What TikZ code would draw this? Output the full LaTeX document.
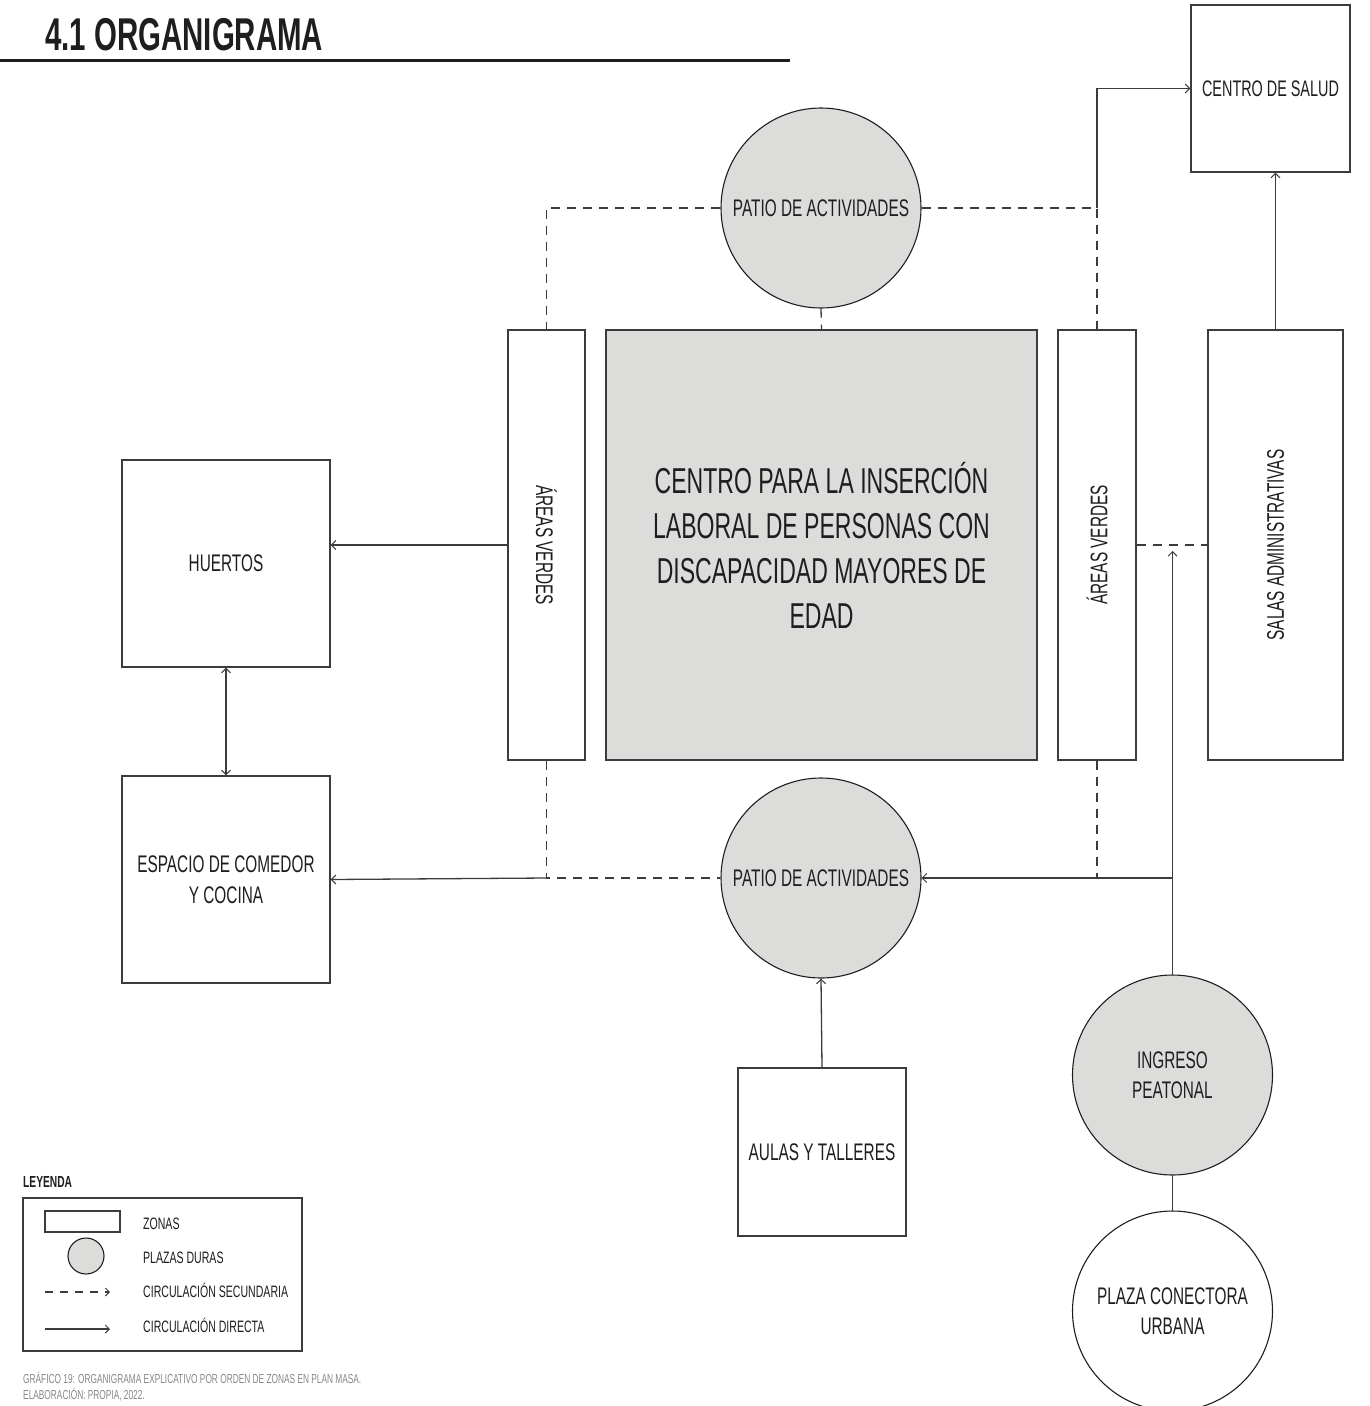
\documentclass[tikz,border=0pt]{standalone}
\usepackage{fontspec}
\usepackage{graphicx}
\setmainfont[FakeStretch=0.64]{Liberation Sans}
\usetikzlibrary{positioning,arrows.meta}

\definecolor{plazagray}{RGB}{220,221,219}
\definecolor{linegray}{RGB}{60,60,60}
\definecolor{textdark}{RGB}{30,30,30}
\definecolor{captiongray}{RGB}{135,135,135}

\tikzset{
  zona/.style={draw=linegray, line width=1.3pt, rectangle, fill=white, inner sep=0pt, text=textdark, align=center, font=\fontsize{24}{30.5}\selectfont},
  plaza/.style={draw=textdark, line width=1.1pt, circle, fill=plazagray, minimum size=200pt, inner sep=0pt, text=textdark, align=center, font=\fontsize{24}{30.5}\selectfont},
  plazaurb/.style={plaza, fill=white},
  direct/.style={draw=linegray, line width=1.3pt, -{Straight Barb[length=4.5pt,width=9pt,line width=1pt]}},
  linea/.style={draw=linegray, line width=1.3pt},
  secundaria/.style={linea, dash pattern=on 9pt off 7pt},
  leyenda/.style={anchor=base west, inner sep=0pt, text=textdark, font=\fontsize{16.5}{19}\selectfont},
}

\begin{document}
\begin{tikzpicture}[x=1pt, y=-1pt]
  \useasboundingbox (0,0) rectangle (1370,1406);

  % Title
  \node [anchor=base west, inner sep=0pt, text=textdark, font=\fontsize{46}{50}\selectfont\bfseries] (titulo) at (45,50) {4.1 ORGANIGRAMA};
  \draw [line width=3pt, textdark] (0,60) -- (790,60);

  % Nodes
  \node [zona, minimum width=159pt, minimum height=167pt, font=\fontsize{22.5}{28}\selectfont] (salud) at (1270.5,88.5) {CENTRO DE SALUD};
  \node [plaza] (patioN) at (821,208) {PATIO DE ACTIVIDADES};
  \node [zona, minimum width=77pt, minimum height=430pt] (avL) at (546.5,545) {\rotatebox{-90}{ÁREAS VERDES}};
  \node [zona, fill=plazagray, minimum width=431pt, minimum height=430pt, font=\fontsize{36}{45}\selectfont] (centro) at (821.5,545) {CENTRO PARA LA INSERCIÓN\\LABORAL DE PERSONAS CON\\DISCAPACIDAD MAYORES DE\\EDAD};
  \node [zona, minimum width=78pt, minimum height=430pt] (avR) at (1097,545) {\rotatebox{90}{ÁREAS VERDES}};
  \node [zona, minimum width=135pt, minimum height=430pt] (salas) at (1275.5,545) {\rotatebox{90}{SALAS ADMINISTRATIVAS}};
  \node [zona, minimum width=208pt, minimum height=207pt] (huertos) at (226,563.5) {HUERTOS};
  \node [zona, minimum width=208pt, minimum height=207pt] (comedor) at (226,879.5) {ESPACIO DE COMEDOR\\Y COCINA};
  \node [plaza] (patioS) at (821,878) {PATIO DE ACTIVIDADES};
  \node [zona, minimum width=168pt, minimum height=168pt] (aulas) at (822,1152) {AULAS Y TALLERES};
  \node [plaza] (ingreso) at (1172.5,1075) {INGRESO\\PEATONAL};
  \node [plazaurb] (plazaurb) at (1172.5,1311) {PLAZA CONECTORA\\URBANA};

  \coordinate (kneeNE) at (avR.north |- patioN.east);
  \coordinate (kneeSW) at (avL.south |- patioS.west);
  \coordinate (jointE) at (ingreso.north |- patioS.east);
  \coordinate (tipE) at (1172.5,551);

  % Arrows
  \draw [secundaria] (patioN.west) -| (avL.north);
  \draw [secundaria] (patioN.east) -| (avR.north);
  \draw [secundaria] (patioN.south) -- (centro.north);
  \draw [direct] (kneeNE) |- (salud.west);
  \draw [direct] (salas.north) -- (salas.north |- salud.south);
  \draw [secundaria] (avR.east) -- (salas.west);
  \draw [direct] (avL.west) -- (avL.west -| huertos.east);
  \draw [direct, {Straight Barb[length=4.5pt,width=9pt,line width=1pt]}-{Straight Barb[length=4.5pt,width=9pt,line width=1pt]}] (huertos.south) -- (comedor.north);
  \draw [secundaria] (avL.south) -- (kneeSW) -- (patioS.west);
  \draw [secundaria] (avR.south) -- (avR.south |- patioS.east);
  \draw [direct] (kneeSW) -- (comedor.east);
  \draw [linea] (ingreso.north) -- (jointE);
  \draw [direct] (jointE) -- (tipE);
  \draw [direct] (jointE) -- (patioS.east);
  \draw [direct] (aulas.north) -- (patioS.south);
  \draw [linea] (ingreso.south) -- (plazaurb.north);

  % Legend
  \node [anchor=base west, inner sep=0pt, text=textdark, font=\fontsize{16}{18}\selectfont\bfseries] (leytitulo) at (23,1187) {LEYENDA};
  \node [draw=linegray, line width=1.3pt, minimum width=279pt, minimum height=153pt, inner sep=0pt] (leybox) at (162.5,1274.5) {};
  \node [zona, minimum width=75pt, minimum height=21pt] (leyzona) at (82.5,1221.5) {};
  \node [plaza, minimum size=36pt] (leyplaza) at (86,1256) {};
  \draw [secundaria, -{Straight Barb[length=4pt,width=8pt,line width=1pt]}, dash pattern=on 8pt off 7pt] (45,1292) -- (110,1292);
  \draw [direct, -{Straight Barb[length=4pt,width=8pt,line width=1pt]}] (45,1329) -- (110,1329);
  \node [leyenda] at (143,1229) {ZONAS};
  \node [leyenda] at (143,1263) {PLAZAS DURAS};
  \node [leyenda] at (143,1297) {CIRCULACIÓN SECUNDARIA};
  \node [leyenda] at (143,1332) {CIRCULACIÓN DIRECTA};

  % Caption
  \node [anchor=base west, inner sep=0pt, text=captiongray, font=\fontsize{13}{15}\selectfont] (pie1) at (23,1383) {GRÁFICO 19: ORGANIGRAMA EXPLICATIVO POR ORDEN DE ZONAS EN PLAN MASA.};
  \node [anchor=base west, inner sep=0pt, text=captiongray, font=\fontsize{13}{15}\selectfont] (pie2) at (23,1399) {ELABORACIÓN: PROPIA, 2022.};
\end{tikzpicture}
\end{document}
